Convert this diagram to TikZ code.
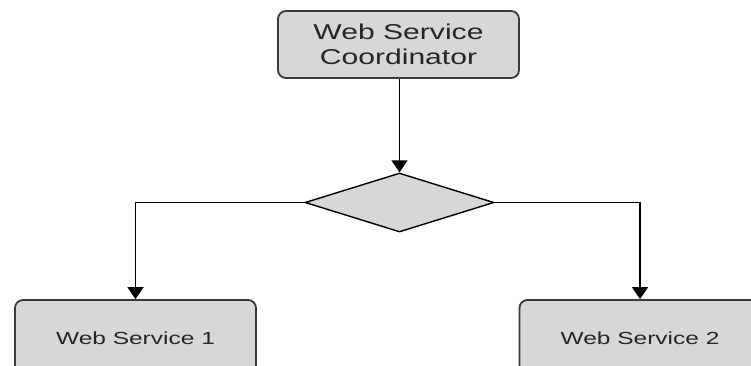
\documentclass[tikz,border=0pt]{standalone}
\usepackage{fontspec}
\setmainfont{Liberation Sans}
\usetikzlibrary{shapes.geometric,arrows.meta}
\definecolor{boxfill}{HTML}{D7D7D7}
\definecolor{boxline}{HTML}{3A3A3A}
\begin{document}
\begin{tikzpicture}[x=1pt,y=-1pt,
  svcbox/.style={draw=boxline,fill=boxfill,line width=1.8pt,rounded corners=8pt,
    minimum width=241pt,inner sep=0pt,align=center,text=black!85},
  decision/.style={diamond,draw=black,fill=boxfill,line width=1.4pt,aspect=3.2,
    minimum width=189pt,minimum height=59pt,inner sep=0pt},
  conn/.style={draw=black,line width=1.6pt,-{Triangle[length=12pt,width=16pt]}},
  wide/.style={}]
\useasboundingbox (0,0) rectangle (751,365);
\fill[white] (0,0) rectangle (751,365);
\node[svcbox,minimum height=67pt,font=\fontsize{21.5}{25}\selectfont] (coord) at (398.5,44.5)
  {\scalebox{1.4}[1]{Web Service}\\\scalebox{1.4}[1]{Coordinator}};
\node[decision] (dec) at (399.5,202.5) {};
\node[svcbox,minimum height=77pt,font=\fontsize{17.5}{21}\selectfont] (ws1) at (135.5,338.5)
  {\scalebox{1.4}[1]{Web Service 1}};
\node[svcbox,minimum height=77pt,font=\fontsize{17.5}{21}\selectfont] (ws2) at (640,338.5)
  {\scalebox{1.4}[1]{Web Service 2}};
\draw[conn] (coord.south -| dec.north) -- (dec.north);
\draw[conn] (dec.west) -| (ws1.north);
\draw[conn] (dec.east) -| (ws2.north);
\end{tikzpicture}
\end{document}
